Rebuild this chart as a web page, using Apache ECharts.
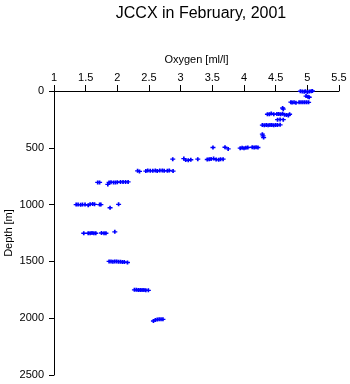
<!DOCTYPE html>
<html>
<head>
<meta charset="utf-8">
<script src="https://cdn.jsdelivr.net/npm/echarts@6/dist/echarts.min.js"></script>
<style>html,body{margin:0;padding:0;background:#fff}#c{width:350px;height:384px}</style>
</head>
<body>
<div id="c"></div>
<script>
var titleText = 'JCCX in February, 2001';
var xName = 'Oxygen [ml/l]';
var yName = 'Depth [m]';
var xTicks = [1, 5.5, 0.5];
var yTicks = [0, 2500, 500];

var oxygen = [
  4.89, 4.92, 4.95, 4.97, 5.00, 5.03, 5.06, 5.08,
  4.98, 5.01, 5.03,
  4.74, 4.76, 4.79, 4.82, 4.87, 4.90, 4.93, 4.96, 4.99, 5.02,
  4.61, 4.62,
  4.37, 4.40, 4.43, 4.47, 4.52, 4.55, 4.58, 4.61, 4.64, 4.67, 4.70, 4.72,
  4.53, 4.57, 4.62,
  4.29, 4.32, 4.35, 4.38, 4.41, 4.44, 4.47, 4.50, 4.53, 4.57,
  4.29, 4.30, 4.31,
  3.51, 3.70, 3.75, 3.94, 3.97, 4.00, 4.03, 4.06, 4.13, 4.16, 4.19, 4.22,
  2.875, 3.05, 3.08, 3.12, 3.16, 3.27, 3.42, 3.45, 3.48, 3.52, 3.56, 3.60, 3.63, 3.67,
  2.32, 2.35, 2.45, 2.48, 2.52, 2.56, 2.60, 2.63, 2.67, 2.71, 2.74, 2.79, 2.82, 2.88,
  1.69, 1.72, 1.85, 1.87, 1.90, 1.94, 1.97, 2.00, 2.05, 2.09, 2.13, 2.17,
  1.35, 1.38, 1.42, 1.45, 1.49, 1.54, 1.57, 1.61, 1.64, 1.72, 1.74, 1.885, 2.02,
  1.47, 1.54, 1.57, 1.60, 1.63, 1.66, 1.75, 1.79, 1.82, 1.96,
  1.87, 1.90, 1.93, 1.96, 1.99, 2.02, 2.05, 2.08, 2.11, 2.16,
  2.27, 2.30, 2.33, 2.36, 2.39, 2.42, 2.45, 2.49,
  2.57, 2.60, 2.63, 2.66, 2.69, 2.72
];
var depth = [
  2, 4, 6, 3, 8, 5, 2, 0,
  45, 50, 55,
  98, 102, 100, 104, 100, 100, 100, 100, 100, 100,
  150, 160,
  205, 205, 198, 205, 202, 202, 205, 200, 208, 212, 215, 205,
  252, 250, 252,
  300, 302, 300, 302, 300, 300, 302, 300, 300, 298,
  380, 395, 410,
  497, 495, 510, 503, 500, 505, 500, 497, 495, 497, 495, 497,
  600, 595, 608, 610, 605, 600, 603, 600, 598, 595, 603, 605, 600, 600,
  703, 708, 705, 700, 703, 703, 700, 705, 700, 700, 702, 702, 700, 705,
  805, 805, 822, 805, 803, 805, 805, 803, 800, 800, 800, 800,
  1000, 1000, 1002, 1000, 1000, 1005, 998, 995, 998, 1000, 1000, 1028, 998,
  1252, 1252, 1252, 1250, 1252, 1252, 1250, 1252, 1252, 1240,
  1500, 1500, 1502, 1500, 1500, 1502, 1502, 1505, 1505, 1510,
  1750, 1750, 1752, 1752, 1752, 1752, 1753, 1755,
  2025, 2015, 2012, 2010, 2010, 2010
];

var pts = oxygen.map(function (v, i) { return [v, depth[i]]; });

var chart = echarts.init(document.getElementById('c'), null, {renderer: 'canvas'});
var font = 'Liberation Sans, Arial, Helvetica, sans-serif';
chart.setOption({
  animation: false,
  backgroundColor: '#ffffff',
  title: {
    text: titleText,
    left: 196,
    top: 1,
    textAlign: 'center',
    textStyle: {fontSize: 16, fontWeight: 'normal', color: '#000', fontFamily: font}
  },
  grid: {left: 54, right: 11, top: 91, bottom: 9, containLabel: false, outerBoundsMode: 'none'},
  xAxis: {
    type: 'value',
    position: 'top',
    min: xTicks[0], max: xTicks[1], interval: xTicks[2],
    name: xName,
    nameLocation: 'middle',
    nameGap: 26,
    nameMoveOverlap: false,
    nameTextStyle: {fontSize: 11, color: '#000', fontFamily: font},
    axisLine: {show: true, onZero: false, lineStyle: {color: '#000', width: 1}},
    axisTick: {show: true, length: 6, lineStyle: {color: '#000'}},
    axisLabel: {fontSize: 11, color: '#000', margin: 8, fontFamily: font},
    splitLine: {show: false}
  },
  yAxis: {
    type: 'value',
    inverse: true,
    min: yTicks[0], max: yTicks[1], interval: yTicks[2],
    name: yName,
    nameLocation: 'middle',
    nameGap: 40,
    nameRotate: 90,
    nameMoveOverlap: false,
    nameTextStyle: {fontSize: 11, color: '#000', fontFamily: font},
    axisLine: {show: true, onZero: false, lineStyle: {color: '#000', width: 1}},
    axisTick: {show: true, length: 5, lineStyle: {color: '#000'}},
    axisLabel: {fontSize: 11, color: '#000', margin: 10, fontFamily: font,
      formatter: function (v) { return String(v); }},
    splitLine: {show: false}
  },
  series: [{
    type: 'scatter',
    data: pts,
    symbol: 'path://M1,0H2V1H3V2H2V3H1V2H0V1H1Z',
    symbolSize: [5, 4],
    itemStyle: {color: '#0000ff', opacity: 1},
    silent: true
  }]
});
</script>
</body>
</html>
